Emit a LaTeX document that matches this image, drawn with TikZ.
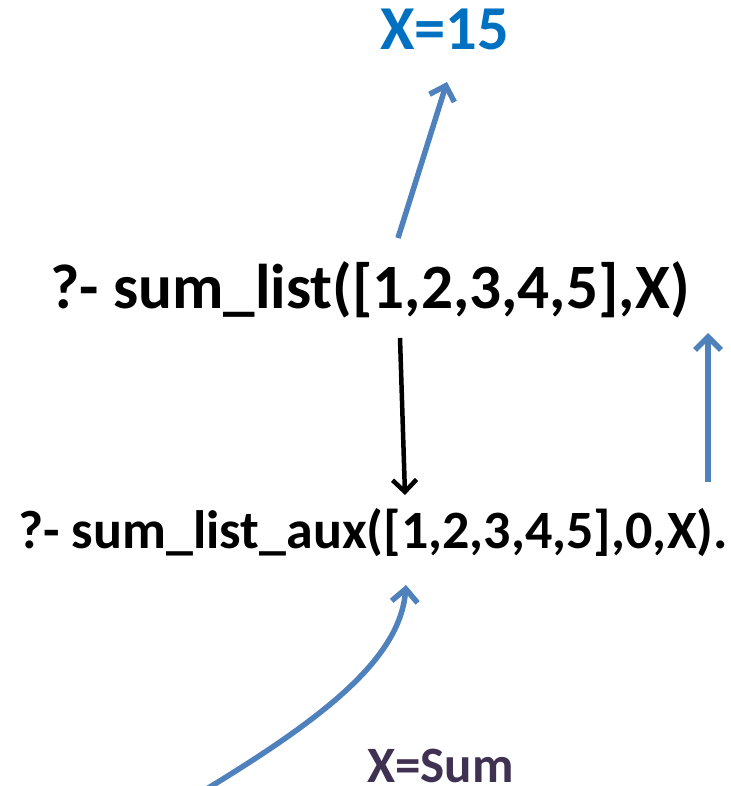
\documentclass[tikz,border=0pt]{standalone}
\usepackage{fontspec}
\setmainfont{Carlito}
\usetikzlibrary{arrows.meta,positioning}
\definecolor{arrowblue}{HTML}{4F81BD}
\definecolor{textblue}{HTML}{0070C0}
\definecolor{sumpurple}{HTML}{3F3151}
\begin{document}
\begin{tikzpicture}[
  x=1pt,y=-1pt,
  query/.style={font=\fontsize{63.2}{63}\selectfont\bfseries,inner sep=0pt,anchor=base west},
  auxquery/.style={font=\fontsize{54}{54}\selectfont\bfseries,inner sep=0pt,anchor=base west},
  result/.style={font=\fontsize{62.5}{62}\selectfont\bfseries,text=textblue,inner sep=0pt,anchor=base west},
  bind/.style={font=\fontsize{51}{51}\selectfont\bfseries,text=sumpurple,inner sep=0pt,anchor=base west},
  uparrow/.style={draw=arrowblue,line width=5.5pt,-{Straight Barb[length=13pt,width=26pt,line width=5.5pt]}},
  downarrow/.style={draw=black,line width=4.5pt,-{Straight Barb[length=12pt,width=24pt,line width=4.5pt]}}
]
\useasboundingbox (0,0) rectangle (730,786);

% texts
\node[result] (res) at (380,50) {X=15};
\node[query] (goal) at (50,308) {?- sum\_list([1,2,3,4,5],X)};
\node[auxquery] (aux) at (18,548) {?- sum\_list\_aux([1,2,3,4,5],0,X).};
\node[bind] (sum) at (367,782) {X=Sum};

% free ends of the connectors
\coordinate (goalup) at (398,238);
\coordinate (restip) at (447,82);
\coordinate (goaldown) at (400,338);
\coordinate (auxtip) at (405,495);
\coordinate (auxup) at (708,482);
\coordinate (goaltip) at (708,333);
\coordinate (sumstart) at (205,790);
\coordinate (auxbottom) at (406,585);

\draw[uparrow] (goalup) -- (restip);
\draw[downarrow] (goaldown) -- (auxtip);
\draw[uparrow] (auxup) -- (goaltip);
\draw[uparrow] (sumstart) .. controls (320,720) and (400,660) .. (auxbottom);
\end{tikzpicture}
\end{document}
